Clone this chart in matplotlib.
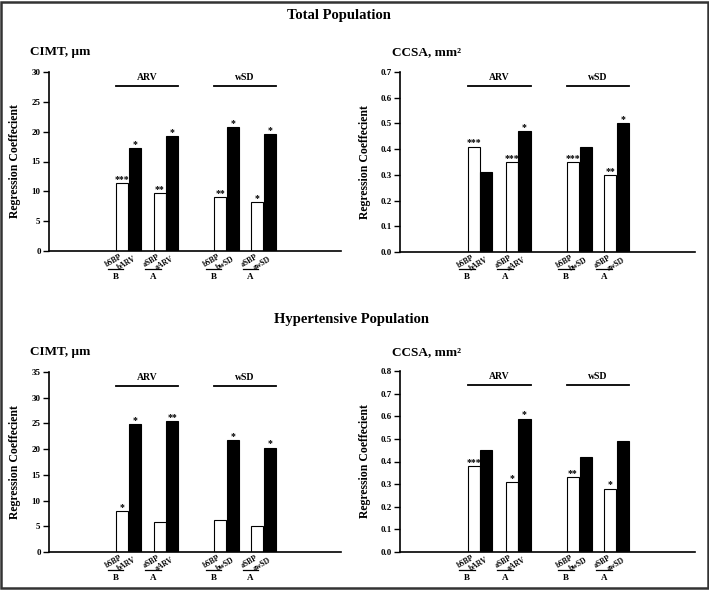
import matplotlib
matplotlib.use("Agg")
import matplotlib.pyplot as plt
from matplotlib.transforms import offset_copy
from matplotlib.patches import Rectangle

plt.rcParams['font.family'] = ['Liberation Serif', 'DejaVu Serif']
plt.rcParams['font.weight'] = 'bold'

# ---- data ----
sbp_labels = ['bSBP', 'aSBP', 'bSBP', 'aSBP']
var_labels = ['bARV', 'aARV', 'bwSD', 'awSD']
period_labels = ['B', 'A', 'B', 'A']
group_names = ['ARV', 'wSD']

cimt_total_sbp = [11.4, 9.7, 9.0, 8.2]
cimt_total_var = [17.2, 19.3, 20.8, 19.6]
cimt_total_sbp_sig = ['***', '**', '**', '*']
cimt_total_var_sig = ['*', '*', '*', '*']

ccsa_total_sbp = [0.41, 0.35, 0.35, 0.30]
ccsa_total_var = [0.31, 0.47, 0.41, 0.50]
ccsa_total_sbp_sig = ['***', '***', '***', '**']
ccsa_total_var_sig = ['', '*', '', '*']

cimt_hyp_sbp = [7.9, 5.9, 6.3, 5.0]
cimt_hyp_var = [24.8, 25.4, 21.8, 20.3]
cimt_hyp_sbp_sig = ['*', '', '', '']
cimt_hyp_var_sig = ['*', '**', '*', '*']

ccsa_hyp_sbp = [0.38, 0.31, 0.33, 0.28]
ccsa_hyp_var = [0.45, 0.59, 0.42, 0.49]
ccsa_hyp_sbp_sig = ['***', '*', '**', '*']
ccsa_hyp_var_sig = ['', '*', '', '']

pair_centers = [6.6, 9.75, 14.8, 17.9]

W, H = 709, 590
fig = plt.figure(figsize=(W / 100, H / 100), dpi=100)

# border
fig.patches.append(Rectangle((0.002, 0.003), 0.996, 0.994, transform=fig.transFigure,
                             fill=False, edgecolor='#333333', linewidth=1.8))


def panel(rect, sbp, var, sbp_sig, var_sig, ymax, ystep, fmt, title, title_xy):
    ax = fig.add_axes(rect)
    ax.set_xlim(0, 24.4)
    ax.set_ylim(0, ymax)
    ws = [c - 0.5 for c in pair_centers]
    bs = [c + 0.55 for c in pair_centers]
    ax.bar(ws, sbp, width=1.0, color='white', edgecolor='black', linewidth=0.8)
    ax.bar(bs, var, width=1.0, color='black', edgecolor='black', linewidth=0.8)
    for x, v, s in zip(ws, sbp, sbp_sig):
        if s:
            ax.annotate(s, (x, v), xytext=(0, -0.5), textcoords='offset points',
                        ha='center', va='bottom', fontsize=7, fontweight='bold')
    for x, v, s in zip(bs, var, var_sig):
        if s:
            ax.annotate(s, (x, v), xytext=(0, -0.5), textcoords='offset points',
                        ha='center', va='bottom', fontsize=7, fontweight='bold')
    # spines
    for sp in ['top', 'right']:
        ax.spines[sp].set_visible(False)
    ax.spines['left'].set_linewidth(1.2)
    ax.spines['bottom'].set_linewidth(1.2)
    ax.set_xticks([])
    ticks = [i * ystep for i in range(int(round(ymax / ystep)) + 1)]
    ax.set_yticks(ticks)
    ax.set_yticklabels([fmt.format(t) for t in ticks], fontsize=6.5, fontweight='bold')
    ax.tick_params(axis='y', direction='out', length=4, width=1.0, pad=2)
    ax.set_ylabel('Regression Coeffecient', fontsize=8.5, fontweight='bold')
    ax.yaxis.set_label_coords(-0.097, 0.5)
    xt = ax.get_xaxis_transform()
    # group lines
    for g, name in enumerate(group_names):
        x0 = ws[2 * g] - 0.5
        x1 = bs[2 * g + 1] + 0.5
        ax.plot([x0, x1], [0.922, 0.922], transform=xt, color='black', lw=1.3, clip_on=False)
        ax.text((x0 + x1) / 2, 0.972, name, transform=xt, ha='center', va='center',
                fontsize=7, fontweight='bold')
    # bottom labels
    for i in range(4):
        t1 = offset_copy(xt, fig=fig, x=2, y=-2, units='dots')
        ax.text(ws[i], 0, sbp_labels[i], transform=t1, rotation=30, ha='right', va='top',
                fontsize=5.5, fontweight='bold')
        t2 = offset_copy(xt, fig=fig, x=3, y=-4, units='dots')
        ax.text(bs[i], 0, var_labels[i], transform=t2, rotation=30, ha='right', va='top',
                fontsize=5.5, fontweight='bold')
        t3 = offset_copy(xt, fig=fig, x=0, y=-17.5, units='dots')
        ax.plot([ws[i] - 1.2, ws[i] + 0.1], [0, 0], transform=t3, color='black', lw=0.9,
                clip_on=False)
        t4 = offset_copy(xt, fig=fig, x=0, y=-25.5, units='dots')
        ax.text(ws[i] - 0.55, 0, period_labels[i], transform=t4, ha='center', va='center',
                fontsize=6.5, fontweight='bold')
    fig.text(title_xy[0] / W, 1 - title_xy[1] / H, title, ha='left', va='center',
             fontsize=9.5, fontweight='bold')
    return ax


def rect(l, r, b, t):
    return [l / W, 1 - b / H, (r - l) / W, (b - t) / H]


panel(rect(49, 341, 251, 72), cimt_total_sbp, cimt_total_var, cimt_total_sbp_sig,
      cimt_total_var_sig, 30, 5, '{:.0f}', 'CIMT, µm', (30, 52))
panel(rect(400, 695, 252, 72), ccsa_total_sbp, ccsa_total_var, ccsa_total_sbp_sig,
      ccsa_total_var_sig, 0.7, 0.1, '{:.1f}', 'CCSA, mm²', (392, 52))
panel(rect(49, 341, 552, 372), cimt_hyp_sbp, cimt_hyp_var, cimt_hyp_sbp_sig,
      cimt_hyp_var_sig, 35, 5, '{:.0f}', 'CIMT, µm', (30, 352))
panel(rect(400, 695, 552, 371), ccsa_hyp_sbp, ccsa_hyp_var, ccsa_hyp_sbp_sig,
      ccsa_hyp_var_sig, 0.8, 0.1, '{:.1f}', 'CCSA, mm²', (392, 352))

fig.text(339 / W, 1 - 15 / H, 'Total Population', ha='center', va='center',
         fontsize=10.5, fontweight='bold')
fig.text(351 / W, 1 - 319 / H, 'Hypertensive Population', ha='center', va='center',
         fontsize=10.5, fontweight='bold')

fig.savefig('out.png', dpi=100)
